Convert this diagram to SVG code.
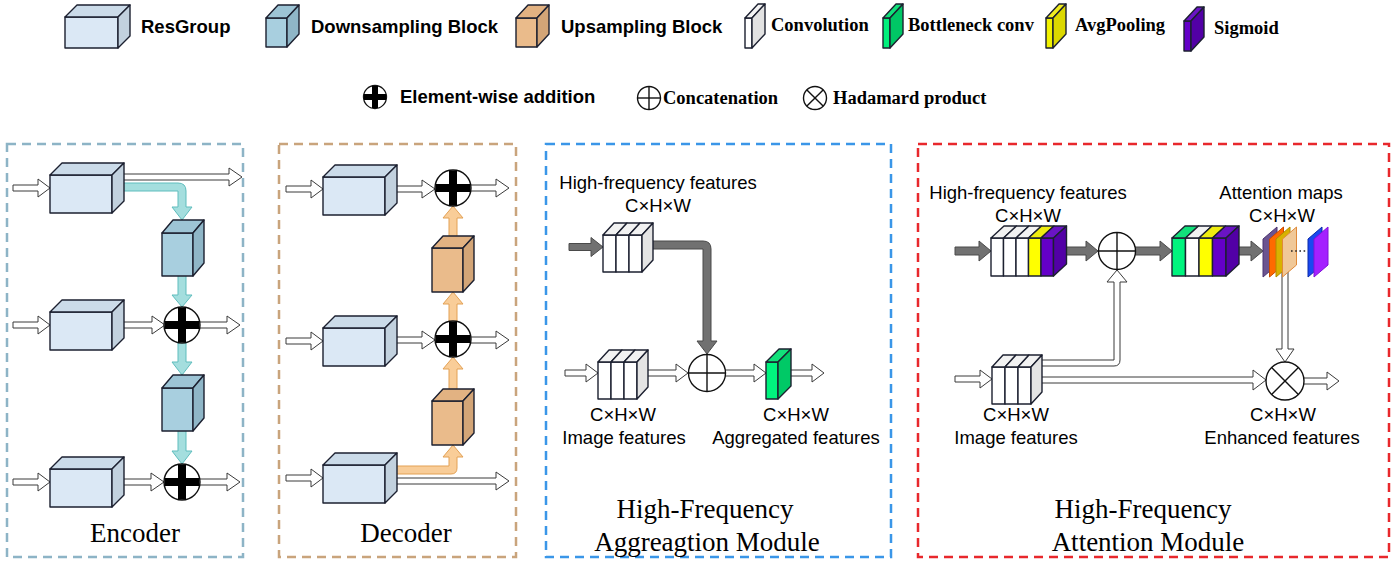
<svg xmlns="http://www.w3.org/2000/svg" xmlns:xlink="http://www.w3.org/1999/xlink" width="1396" height="565" viewBox="0 0 1396 565">
  <style>
    .sans-b { font-family: "Liberation Sans", Arial, sans-serif; font-weight: bold; font-size: 18.5px; fill: #000; }
    .serif-b { font-family: "Liberation Serif", "Times New Roman", serif; font-weight: bold; font-size: 18.5px; fill: #000; }
    .lbl { font-family: "Liberation Sans", Arial, sans-serif; font-size: 18.5px; fill: #000; text-anchor: middle; }
    .title { font-family: "Liberation Serif", "Times New Roman", serif; font-size: 27px; fill: #000; text-anchor: middle; }
    .edge { stroke: #1c2030; stroke-width: 1.4; stroke-linejoin: round; }
    .hollow { fill: #fff; stroke: #3a3a3a; stroke-width: 1; stroke-linejoin: round; }
    .gray { fill: #717171; stroke: #4a4a4a; stroke-width: 1; stroke-linejoin: round; }
    .teal { fill: #a4dede; stroke: #5fbdbd; stroke-width: 1; stroke-linejoin: round; }
    .orange { fill: #f9cd98; stroke: #e3a155; stroke-width: 1; stroke-linejoin: round; }
    .panel { fill: none; stroke-width: 2.5; stroke-dasharray: 9 6; }
    .op { fill: #fff; stroke: #111; stroke-width: 1.4; }
    .opline { stroke: #111; stroke-width: 1.4; }
  </style>
  <defs>
    <!-- ResGroup cube, front face at origin -->
    <g id="resgroup" class="edge">
      <rect x="0" y="0" width="62" height="38" fill="#dbe8f5"/>
      <polygon points="0,0 12,-12 74,-12 62,0" fill="#cbdbe9"/>
      <polygon points="62,0 74,-12 74,26 62,38" fill="#c2d1de"/>
    </g>
    <!-- Downsampling block -->
    <g id="downblk" class="edge">
      <rect x="0" y="0" width="31" height="43" fill="#a8cfdf"/>
      <polygon points="0,0 11,-13 42,-13 31,0" fill="#9dc4d5"/>
      <polygon points="31,0 42,-13 42,30 31,43" fill="#8fb6c7"/>
    </g>
    <!-- Upsampling block -->
    <g id="upblk" class="edge">
      <rect x="0" y="0" width="31" height="44" fill="#eabb8b"/>
      <polygon points="0,0 11,-12 42,-12 31,0" fill="#e2b282"/>
      <polygon points="31,0 42,-12 42,32 31,44" fill="#d3a577"/>
    </g>
    <!-- Three-slab convolution stack -->
    <g id="conv3" class="edge">
      <rect x="0" y="0" width="13" height="37" fill="#fff"/>
      <rect x="13" y="0" width="13" height="37" fill="#fff"/>
      <rect x="26" y="0" width="13" height="37" fill="#fff"/>
      <polygon points="0,0 11,-12 24,-12 13,0" fill="#f2f2f2"/>
      <polygon points="13,0 24,-12 37,-12 26,0" fill="#f2f2f2"/>
      <polygon points="26,0 37,-12 50,-12 39,0" fill="#f2f2f2"/>
      <polygon points="39,0 50,-12 50,25 39,37" fill="#e4e4e4"/>
    </g>
    <!-- Element-wise addition symbol, r = 18 -->
    <g id="eadd">
      <circle cx="0" cy="0" r="18" fill="#fff" stroke="#111" stroke-width="1.4"/>
      <rect x="-17.5" y="-4" width="35" height="8" fill="#000"/>
      <rect x="-4" y="-17.5" width="8" height="35" fill="#000"/>
    </g>
  </defs>

  <rect width="1396" height="565" fill="#fff"/>

  <!-- Legend -->
  <g id="legend">
    <g id="legend-resgroup" class="edge">
      <rect x="65" y="17" width="53" height="31" fill="#dbe8f5"/>
      <polygon points="65,17 77,5 130,5 118,17" fill="#cbdbe9"/>
      <polygon points="118,17 130,5 130,36 118,48" fill="#c2d1de"/>
    </g>
    <text class="sans-b" x="141" y="33">ResGroup</text>

    <g id="legend-down" class="edge">
      <rect x="266" y="18" width="21" height="29" fill="#a8cfdf"/>
      <polygon points="266,18 278,5 299,5 287,18" fill="#9dc4d5"/>
      <polygon points="287,18 299,5 299,34 287,47" fill="#8fb6c7"/>
    </g>
    <text class="sans-b" x="311" y="33">Downsampling Block</text>

    <g id="legend-up" class="edge">
      <rect x="516" y="18" width="21" height="29" fill="#eabb8b"/>
      <polygon points="516,18 528,5 549,5 537,18" fill="#e2b282"/>
      <polygon points="537,18 549,5 549,34 537,47" fill="#d3a577"/>
    </g>
    <text class="sans-b" x="561" y="33">Upsampling Block</text>

    <g id="legend-conv" class="edge">
      <rect x="745" y="18" width="7" height="30" fill="#fff"/>
      <polygon points="745,18 758,4 765,4 752,18" fill="#f4f4f4"/>
      <polygon points="752,18 765,4 765,34 752,48" fill="#e2e2e2"/>
    </g>
    <text class="serif-b" x="771" y="31">Convolution</text>

    <g id="legend-bottleneck" class="edge">
      <rect x="883" y="18" width="7" height="30" fill="#00f07c"/>
      <polygon points="883,18 896,4 903,4 890,18" fill="#12e07a"/>
      <polygon points="890,18 903,4 903,34 890,48" fill="#00c765"/>
    </g>
    <text class="serif-b" x="908" y="31">Bottleneck conv</text>

    <g id="legend-avgpool" class="edge">
      <rect x="1046" y="18" width="7" height="30" fill="#f2f200"/>
      <polygon points="1046,18 1059,4 1066,4 1053,18" fill="#f0ec20"/>
      <polygon points="1053,18 1066,4 1066,34 1053,48" fill="#dcd800"/>
    </g>
    <text class="serif-b" x="1075" y="31">AvgPooling</text>

    <g id="legend-sigmoid" class="edge">
      <rect x="1184" y="21" width="7" height="30" fill="#6400c8"/>
      <polygon points="1184,21 1197,7 1204,7 1191,21" fill="#6a14c4"/>
      <polygon points="1191,21 1204,7 1204,37 1191,51" fill="#5200a6"/>
    </g>
    <text class="serif-b" x="1214" y="34">Sigmoid</text>

    <g id="legend-eadd">
      <circle cx="375" cy="97" r="11.5" fill="#fff" stroke="#111" stroke-width="1.3"/>
      <rect x="364" y="94" width="22" height="6" fill="#000"/>
      <rect x="372" y="86" width="6" height="22" fill="#000"/>
    </g>
    <text class="sans-b" x="400" y="103">Element-wise addition</text>

    <g id="legend-concat">
      <circle cx="649" cy="98" r="11.5" class="op" stroke-width="1.3"/>
      <line x1="637.5" y1="98" x2="660.5" y2="98" class="opline" stroke-width="1.2"/>
      <line x1="649" y1="86.5" x2="649" y2="109.5" class="opline" stroke-width="1.2"/>
    </g>
    <text class="serif-b" x="663" y="104">Concatenation</text>

    <g id="legend-hadamard">
      <circle cx="815" cy="98" r="11.5" class="op" stroke-width="1.3"/>
      <line x1="806.9" y1="89.9" x2="823.1" y2="106.1" class="opline" stroke-width="1.2"/>
      <line x1="823.1" y1="89.9" x2="806.9" y2="106.1" class="opline" stroke-width="1.2"/>
    </g>
    <text class="serif-b" x="833" y="104">Hadamard product</text>
  </g>

  <!-- Panel frames -->
  <g id="panels">
    <rect id="panel-encoder" class="panel" x="7" y="144" width="236" height="413" stroke="#8db4c6"/>
    <rect id="panel-decoder" class="panel" x="279" y="144" width="237" height="413" stroke="#c9a47c"/>
    <rect id="panel-hfam" class="panel" x="546" y="144" width="345" height="413" stroke="#3a96e8"/>
    <rect id="panel-hfatt" class="panel" x="918" y="144" width="471" height="413" stroke="#e8282c"/>
  </g>

  <!-- Connectors (drawn under the nodes) -->
  <g id="connectors">
    <!-- Encoder -->
    <path class="hollow" d="M13,185 H38 V179 L50,188 L38,197 V191 H13 Z"/>
    <path class="hollow" d="M118,174 H229 V168 L242,177 L229,186 V180 H118 Z"/>
    <path class="teal" d="M118,183 H178 Q186,183 186,191 V207 H192 L182,220 L172,207 H178 V191 H118 Z"/>
    <path class="teal" d="M178,270 V295 H172 L182,307 L192,295 H186 V270 Z"/>
    <path class="hollow" d="M13,322 H38 V316 L50,325 L38,334 V328 H13 Z"/>
    <path class="hollow" d="M120,322 H152 V316 L165,325 L152,334 V328 H120 Z"/>
    <path class="hollow" d="M196,322 H227 V316 L240,325 L227,334 V328 H196 Z"/>
    <path class="teal" d="M178,340 V362 H172 L182,375 L192,362 H186 V340 Z"/>
    <path class="teal" d="M178,426 V451 H172 L182,464 L192,451 H186 V426 Z"/>
    <path class="hollow" d="M13,479 H38 V473 L50,482 L38,491 V485 H13 Z"/>
    <path class="hollow" d="M120,479 H151 V473 L164,482 L151,491 V485 H120 Z"/>
    <path class="hollow" d="M196,479 H227 V473 L240,482 L227,491 V485 H196 Z"/>

    <!-- Decoder -->
    <path class="hollow" d="M286,186 H311 V180 L323,189 L311,198 V192 H286 Z"/>
    <path class="hollow" d="M392,186 H422 V180 L435,189 L422,198 V192 H392 Z"/>
    <path class="hollow" d="M468,185 H496 V179 L509,188 L496,197 V191 H468 Z"/>
    <path class="orange" d="M449,242 V218 H443 L453,206 L463,218 H457 V242 Z"/>
    <path class="orange" d="M449,324 V304 H443 L453,292 L463,304 H457 V324 Z"/>
    <path class="hollow" d="M286,338 H311 V332 L323,341 L311,350 V344 H286 Z"/>
    <path class="hollow" d="M392,337 H422 V331 L435,340 L422,349 V343 H392 Z"/>
    <path class="hollow" d="M468,337 H496 V331 L509,340 L496,349 V343 H468 Z"/>
    <path class="orange" d="M449,395 V369 H443 L453,357 L463,369 H457 V395 Z"/>
    <path class="hollow" d="M286,475 H311 V469 L323,478 L311,487 V481 H286 Z"/>
    <path class="orange" d="M392,466 H449 V457 H443 L453,445 L463,457 H457 V468 Q457,474 451,474 H392 Z"/>
    <path class="hollow" d="M392,478 H496 V472 L509,481 L496,490 V484 H392 Z"/>

    <!-- High-frequency aggregation -->
    <path class="gray" d="M569,243.5 H591 V237.5 L603,247 L591,256.5 V250.5 H569 Z"/>
    <path class="gray" d="M648,241 H703 Q711,241 711,249 V341 H717 L707,354 L697,341 H703 V249 H648 Z"/>
    <path class="hollow" d="M565,370 H586 V364 L598,373 L586,382 V376 H565 Z"/>
    <path class="hollow" d="M644,370 H676 V364 L688,373 L676,382 V376 H644 Z"/>
    <path class="hollow" d="M724,370 H754 V364 L766,373 L754,382 V376 H724 Z"/>
    <path class="hollow" d="M786,370 H812 V364 L824,373 L812,382 V376 H786 Z"/>

    <!-- High-frequency attention -->
    <path class="gray" d="M955,247 H979 V241 L991,251 L979,261 V255 H955 Z"/>
    <path class="gray" d="M1060,247 H1086 V241 L1098,251 L1086,261 V255 H1060 Z"/>
    <path class="gray" d="M1134,247 H1160 V241 L1172,251 L1160,261 V255 H1134 Z"/>
    <path class="gray" d="M1235,247 H1251 V241 L1263,251 L1251,261 V255 H1235 Z"/>
    <path class="hollow" d="M955,376 H980 V370 L992,379 L980,388 V382 H955 Z"/>
    <path class="hollow" d="M1036,360 H1114 V282 H1107 L1117,270 L1127,282 H1120 V360 Q1120,366 1114,366 H1036 Z"/>
    <path class="hollow" d="M1036,377 H1253 V370 L1266,380 L1253,390 V383 H1036 Z"/>
    <path class="hollow" d="M1282,270 V349 H1276 L1285,362 L1294,349 H1288 V270 Z"/>
    <path class="hollow" d="M1302,378 H1327 V372 L1339,381 L1327,390 V384 H1302 Z"/>
  </g>

  <!-- Encoder nodes -->
  <g id="enc-res1"><use xlink:href="#resgroup" transform="translate(50,175)"/></g>
  <g id="enc-res2"><use xlink:href="#resgroup" transform="translate(50,312)"/></g>
  <g id="enc-res3"><use xlink:href="#resgroup" transform="translate(50,469)"/></g>
  <g id="enc-down1"><use xlink:href="#downblk" transform="translate(162,233)"/></g>
  <g id="enc-down2"><use xlink:href="#downblk" transform="translate(162,388)"/></g>
  <g id="enc-add1"><use xlink:href="#eadd" transform="translate(182,325)"/></g>
  <g id="enc-add2"><use xlink:href="#eadd" transform="translate(182,482)"/></g>
  <text class="title" x="135" y="542">Encoder</text>

  <!-- Decoder nodes -->
  <g id="dec-res1"><use xlink:href="#resgroup" transform="translate(323,177)"/></g>
  <g id="dec-res2"><use xlink:href="#resgroup" transform="translate(323,328)"/></g>
  <g id="dec-res3"><use xlink:href="#resgroup" transform="translate(323,465)"/></g>
  <g id="dec-up1"><use xlink:href="#upblk" transform="translate(432,248)"/></g>
  <g id="dec-up2"><use xlink:href="#upblk" transform="translate(432,401)"/></g>
  <g id="dec-add1"><use xlink:href="#eadd" transform="translate(453,188)"/></g>
  <g id="dec-add2"><use xlink:href="#eadd" transform="translate(453,339)"/></g>
  <text class="title" x="406" y="542">Decoder</text>

  <!-- High-frequency aggregation module -->
  <g id="hfam-hf-feat">
    <use xlink:href="#conv3" transform="translate(603,235)"/>
    <text class="lbl" x="658" y="189">High-frequency features</text>
    <text class="lbl" x="658" y="212">C×H×W</text>
  </g>
  <g id="hfam-img-feat">
    <use xlink:href="#conv3" transform="translate(598,362)"/>
    <text class="lbl" x="623" y="421">C×H×W</text>
    <text class="lbl" x="624" y="444">Image features</text>
  </g>
  <g id="hfam-concat">
    <circle cx="707" cy="373" r="18.5" class="op"/>
    <line x1="688.5" y1="373" x2="725.5" y2="373" class="opline"/>
    <line x1="707" y1="354.5" x2="707" y2="391.5" class="opline"/>
  </g>
  <g id="hfam-bottleneck">
    <g class="edge">
      <rect x="766" y="362" width="12" height="37" fill="#00f47e"/>
      <polygon points="766,362 779,349 791,349 778,362" fill="#12e07a"/>
      <polygon points="778,362 791,349 791,386 778,399" fill="#00c966"/>
    </g>
    <text class="lbl" x="796" y="421">C×H×W</text>
    <text class="lbl" x="796" y="444">Aggregated features</text>
  </g>
  <text class="title" x="705" y="518">High-Frequency</text>
  <text class="title" x="707" y="551">Aggreagtion Module</text>

  <!-- High-frequency attention module -->
  <g id="hfatt-hf-feat">
    <g class="edge" transform="translate(991,238)">
      <rect x="0" y="0" width="12.5" height="38" fill="#fff"/>
      <rect x="12.5" y="0" width="12.5" height="38" fill="#fff"/>
      <rect x="25" y="0" width="12.5" height="38" fill="#fff"/>
      <rect x="37.5" y="0" width="12.5" height="38" fill="#ffff00"/>
      <rect x="50" y="0" width="12.5" height="38" fill="#6400c8"/>
      <polygon points="0,0 13,-12 25.5,-12 12.5,0" fill="#f2f2f2"/>
      <polygon points="12.5,0 25.5,-12 38,-12 25,0" fill="#f2f2f2"/>
      <polygon points="25,0 38,-12 50.5,-12 37.5,0" fill="#f2f2f2"/>
      <polygon points="37.5,0 50.5,-12 63,-12 50,0" fill="#f0ec10"/>
      <polygon points="50,0 63,-12 75.5,-12 62.5,0" fill="#6a14c4"/>
      <polygon points="62.5,0 75.5,-12 75.5,26 62.5,38" fill="#5200a6"/>
    </g>
    <text class="lbl" x="1028" y="199">High-frequency features</text>
    <text class="lbl" x="1028" y="222">C×H×W</text>
  </g>
  <g id="hfatt-concat">
    <circle cx="1117" cy="251" r="18.5" class="op"/>
    <line x1="1098.5" y1="251" x2="1135.5" y2="251" class="opline"/>
    <line x1="1117" y1="232.5" x2="1117" y2="269.5" class="opline"/>
  </g>
  <g id="hfatt-conv-stack">
    <g class="edge" transform="translate(1172,238)">
      <rect x="0" y="0" width="13.5" height="38" fill="#00f47e"/>
      <rect x="13.5" y="0" width="13.5" height="38" fill="#fff"/>
      <rect x="27" y="0" width="13.5" height="38" fill="#ffff00"/>
      <rect x="40.5" y="0" width="13.5" height="38" fill="#6400c8"/>
      <polygon points="0,0 13,-12 26.5,-12 13.5,0" fill="#12e07a"/>
      <polygon points="13.5,0 26.5,-12 40,-12 27,0" fill="#f2f2f2"/>
      <polygon points="27,0 40,-12 53.5,-12 40.5,0" fill="#f0ec10"/>
      <polygon points="40.5,0 53.5,-12 67,-12 54,0" fill="#6a14c4"/>
      <polygon points="54,0 67,-12 67,26 54,38" fill="#5200a6"/>
    </g>
  </g>
  <g id="hfatt-attention-maps">
    <polygon points="1263,239 1277,227 1277,265 1263,277" fill="#6b5490" stroke="#4a3470" stroke-width="1"/>
    <polygon points="1269.5,239 1283.5,227 1283.5,265 1269.5,277" fill="#ff6a00" stroke="#cc4a00" stroke-width="1"/>
    <polygon points="1276,239 1290,227 1290,265 1276,277" fill="#d8b200" stroke="#b08a00" stroke-width="1"/>
    <polygon points="1282.5,239 1296.5,227 1296.5,265 1282.5,277" fill="#f0c898" stroke="#e08a3a" stroke-width="1"/>
    <line x1="1291" y1="251" x2="1307" y2="251" stroke="#222" stroke-width="1.6" stroke-dasharray="1.6 2.6"/>
    <polygon points="1308,239 1322,227 1322,265 1308,277" fill="#1a48f0" stroke="#0a2aa8" stroke-width="1"/>
    <polygon points="1314,239 1328,227 1328,265 1314,277" fill="#a420ff" stroke="#8010d8" stroke-width="1"/>
    <text class="lbl" x="1281" y="199">Attention maps</text>
    <text class="lbl" x="1282" y="222">C×H×W</text>
  </g>
  <g id="hfatt-img-feat">
    <use xlink:href="#conv3" transform="translate(992,367)"/>
    <text class="lbl" x="1016" y="421">C×H×W</text>
    <text class="lbl" x="1016" y="444">Image features</text>
  </g>
  <g id="hfatt-hadamard">
    <circle cx="1285" cy="381" r="19" class="op"/>
    <line x1="1271.6" y1="367.6" x2="1298.4" y2="394.4" class="opline"/>
    <line x1="1298.4" y1="367.6" x2="1271.6" y2="394.4" class="opline"/>
    <text class="lbl" x="1283" y="421">C×H×W</text>
    <text class="lbl" x="1282" y="444">Enhanced features</text>
  </g>
  <text class="title" x="1143" y="518">High-Frequency</text>
  <text class="title" x="1148" y="551">Attention Module</text>
</svg>
